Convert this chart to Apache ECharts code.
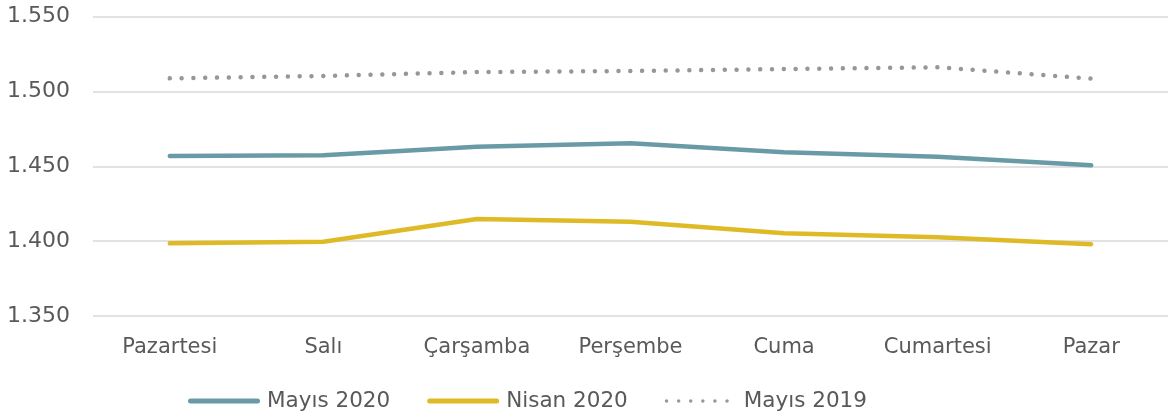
<!DOCTYPE html>
<html>
<head>
<meta charset="utf-8">
<script src="https://cdn.jsdelivr.net/npm/echarts@6/dist/echarts.min.js"></script>
<style>
html,body{margin:0;padding:0;background:#fff;}
#chart{width:1173px;height:418px;}
</style>
</head>
<body>
<div id="chart"></div>
<script>
const categories = ['Pazartesi','Salı','Çarşamba','Perşembe','Cuma','Cumartesi','Pazar'];
const seriesNames = ['Mayıs 2020','Nisan 2020','Mayıs 2019'];
const mayis2020 = [1456.8, 1457.3, 1463.1, 1465.3, 1459.3, 1456.4, 1450.6];
const nisan2020 = [1398.5, 1399.6, 1414.8, 1413.0, 1405.2, 1402.6, 1397.9];
const mayis2019 = [1508.7, 1510.3, 1512.9, 1513.6, 1514.9, 1516.1, 1508.5];
const yMin = 1350, yMax = 1550, yStep = 50;

const FONT = 'DejaVu Sans';
const TXT = '#595959';
const TEAL = '#689ba6', GOLD = '#dfba27', GREY = '#979797';
function fmt(v){ return (v/1000).toFixed(3); }

// legend icon shapes (72 x 5 box)
const solidIcon = 'path://M2.5,0 L69.5,0 A2.5,2.5 0 0,1 69.5,5 L2.5,5 A2.5,2.5 0 0,1 2.5,0 Z';
let dotPath = 'path://M0,0 M72,5';
for (let k = 0; k < 6; k++) {
  const cx = 1.75 + k * 12.1;
  dotPath += ' M' + (cx - 1.75).toFixed(2) + ',2.5 a1.75,1.75 0 1,0 3.5,0 a1.75,1.75 0 1,0 -3.5,0 Z';
}

const chart = echarts.init(document.getElementById('chart'), null, {renderer:'canvas'});
chart.setOption({
  animation:false,
  textStyle:{fontFamily:FONT},
  grid:{left:93, right:5, top:16.5, bottom:102, containLabel:false},
  legend:{
    left:183, top:385, itemWidth:72, itemHeight:5, itemGap:37,
    textStyle:{fontFamily:FONT, fontSize:21.5, color:TXT, padding:[0,0,0,2]},
    data:[
      {name:seriesNames[0], icon:solidIcon},
      {name:seriesNames[1], icon:solidIcon},
      {name:seriesNames[2], icon:dotPath}
    ]
  },
  xAxis:{
    type:'category', data:categories, boundaryGap:true,
    axisLine:{show:false}, axisTick:{show:false},
    axisLabel:{fontFamily:FONT, fontSize:21, color:TXT, margin:21}
  },
  yAxis:{
    type:'value', min:yMin, max:yMax, interval:yStep,
    axisLine:{show:false}, axisTick:{show:false},
    splitLine:{lineStyle:{color:'#d9d9d9', width:1.5}},
    axisLabel:{fontFamily:FONT, fontSize:22, color:TXT, margin:23, formatter:fmt}
  },
  series:[
    {name:seriesNames[0], type:'line', data:mayis2020, symbol:'none',
     lineStyle:{color:TEAL, width:4.5, cap:'round'}, itemStyle:{color:TEAL}},
    {name:seriesNames[1], type:'line', data:nisan2020, symbol:'none',
     lineStyle:{color:GOLD, width:4.5, cap:'round'}, itemStyle:{color:GOLD}},
    {name:seriesNames[2], type:'line', data:mayis2019, symbol:'none',
     lineStyle:{color:GREY, width:4.5, type:[0.01,11.8], cap:'round'}, itemStyle:{color:GREY}}
  ]
});
</script>
</body>
</html>
